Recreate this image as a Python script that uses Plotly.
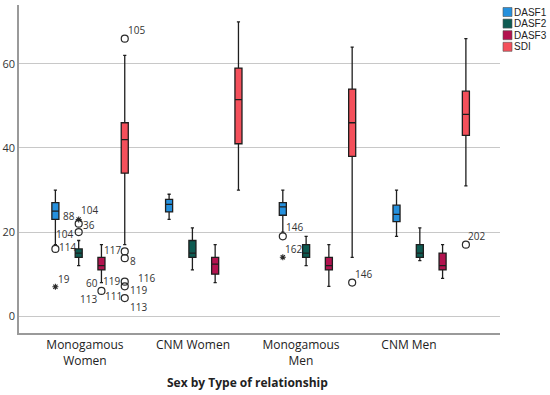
import plotly.graph_objects as go

# ---------------- data ----------------
groups = ["Monogamous<br>Women", "CNM Women", "Monogamous<br>Men", "CNM Men"]
series = ["DASF1", "DASF2", "DASF3", "SDI"]

# per series: values for the 4 groups
lower = {"DASF1": [17, 23, 20, 19], "DASF2": [12, 11, 12, 13.2],
         "DASF3": [8, 8, 7.1, 9], "SDI": [17, 30, 14, 31]}
q1 = {"DASF1": [23, 24.8, 24, 22.5], "DASF2": [14, 14, 14, 14],
      "DASF3": [11, 10, 11, 11], "SDI": [34, 41, 38, 43]}
med = {"DASF1": [25, 26.6, 26, 24.2], "DASF2": [15, 15, 15, 15],
       "DASF3": [12, 12.4, 12, 12], "SDI": [42, 51.5, 46, 48]}
q3 = {"DASF1": [27, 27.8, 27, 26.4], "DASF2": [16, 18, 17, 17],
      "DASF3": [14, 14, 14, 15], "SDI": [46, 59, 54, 53.5]}
upper = {"DASF1": [30, 29, 30, 30], "DASF2": [18, 21, 19, 21],
         "DASF3": [17, 17, 17, 17], "SDI": [62, 70, 64, 66]}

# outliers: group index, series, value, kind, case labels
out_group = [0, 0, 0, 0, 0, 0, 0, 0, 0, 0, 0, 0, 2, 2, 2, 3]
out_series = ["DASF1", "DASF1", "DASF2", "DASF2", "DASF2", "DASF3",
              "SDI", "SDI", "SDI", "SDI", "SDI", "SDI",
              "DASF1", "DASF1", "SDI", "SDI"]
out_value = [16, 7, 23, 22, 20, 6, 66, 15.4, 13.8, 8.2, 7.1, 4.3, 19, 14, 8, 17]
out_kind = ["o", "*", "*", "o", "o", "o", "o", "o", "o", "o", "o", "o",
            "o", "*", "o", "o"]
out_labels = [["114"], ["19"], ["88", "104"], ["36"], ["104"],
              ["60", "119", "113", "111"], ["105"], ["117"], ["8"], ["116"],
              ["119"], ["113"], ["146"], ["162"], ["146"], ["202"]]

# ---------------- style ----------------
colors = {"DASF1": "#2590dd", "DASF2": "#0e5b52", "DASF3": "#b3134f", "SDI": "#f4505b"}
offsets = {"DASF1": -0.30, "DASF2": -0.095, "DASF3": 0.105, "SDI": 0.31}
tick_pos = [-0.04, 0.91, 1.86, 2.81]
# label pixel offsets (dx, dy, anchor) matching out_labels
label_style = [
    [(3, 2, "left")], [(2, 8, "left")], [(-3, 3, "right"), (1, 9, "left")],
    [(3, -1, "left")], [(-5, -2, "right")],
    [(-2, 8, "right"), (1, 9.5, "left"), (-3, -8, "right"), (3, -5, "left")],
    [(2, 9, "left")], [(-3, 1, "right")], [(4, -3, "left")], [(12, 4, "left")],
    [(4, -4, "left")], [(4, -9, "left")], [(2, 9, "left")], [(1, 8, "left")],
    [(2, 9, "left")], [(1, 9, "left")],
]
FONT = "Open Sans"
LEG_FONT = "Liberation Sans"

fig = go.Figure()
for s in series:
    fig.add_trace(go.Box(
        x=[g + offsets[s] for g in range(len(groups))],
        q1=q1[s], median=med[s], q3=q3[s],
        lowerfence=lower[s], upperfence=upper[s],
        boxpoints=False, width=0.062, whiskerwidth=0.45,
        fillcolor=colors[s], line=dict(color="#1e1e1e", width=1.3),
        name=s, showlegend=False, hoverinfo="skip",
    ))

for kind, sym, size, lw in [("o", "circle-open", 7, 1.2), ("*", "asterisk-open", 5, 1.1)]:
    idx = [i for i, k in enumerate(out_kind) if k == kind]
    fig.add_trace(go.Scatter(
        x=[out_group[i] + offsets[out_series[i]] for i in idx],
        y=[out_value[i] for i in idx], mode="markers",
        marker=dict(symbol=sym, size=size, color="#2a2a2a", line=dict(width=lw, color="#2a2a2a")),
        showlegend=False, hoverinfo="skip",
    ))

annotations = []
for i, labs in enumerate(out_labels):
    for lab, (dx, dy, anc) in zip(labs, label_style[i]):
        annotations.append(dict(
            x=out_group[i] + offsets[out_series[i]], y=out_value[i], xref="x", yref="y",
            text=lab, showarrow=False, xanchor=anc, yanchor="middle",
            xshift=dx, yshift=dy, borderpad=0,
            font=dict(family=FONT, size=10, color="#333333"),
        ))

# x-axis title
annotations.append(dict(x=0.475, y=-0.15, xref="paper", yref="paper",
                        text="<b>Sex by Type of relationship</b>", showarrow=False,
                        xanchor="center", yanchor="middle",
                        font=dict(family=FONT, size=12, color="#222222")))

# custom compact legend
shapes = []
for j, s in enumerate(series):
    yc = 12 + j * 11.6
    shapes.append(dict(type="rect", xref="paper", yref="paper",
                       x0=(503 - 19) / 481, x1=(512 - 19) / 481,
                       y0=(333 - yc - 4.5) / 328, y1=(333 - yc + 4.5) / 328,
                       fillcolor=colors[s], line=dict(color="#555555", width=0.6)))
    annotations.append(dict(x=(513 - 19) / 481, y=(333 - yc) / 328, xref="paper", yref="paper",
                            text=s, showarrow=False, xanchor="left", yanchor="middle",
                            borderpad=0,
                            font=dict(family=LEG_FONT, size=10, color="#222222")))

fig.update_layout(
    width=550, height=395,
    margin=dict(l=19, r=50, t=5, b=62),
    paper_bgcolor="white", plot_bgcolor="white",
    font=dict(family=FONT, size=11, color="#222222"),
    showlegend=False,
    annotations=annotations, shapes=shapes,
    xaxis=dict(range=[-0.62, 3.61], tickvals=tick_pos, ticktext=groups,
               showgrid=False, zeroline=False, showline=True, linecolor="#9a9a9a",
               linewidth=1.5, ticks="", tickfont=dict(family=FONT, size=12, color="#222222"),
               automargin=False),
    yaxis=dict(range=[-4, 74], tickvals=[0, 20, 40, 60], showgrid=True,
               gridcolor="#c8c8c8", gridwidth=1, zeroline=False, showline=True,
               linecolor="#9a9a9a", linewidth=1.5, ticks="",
               tickfont=dict(family=FONT, size=11, color="#333333"), automargin=False),
)

fig.write_html("out.html", config={"displayModeBar": False},
               post_script="document.body.style.margin='0';document.body.style.overflow='hidden';")
